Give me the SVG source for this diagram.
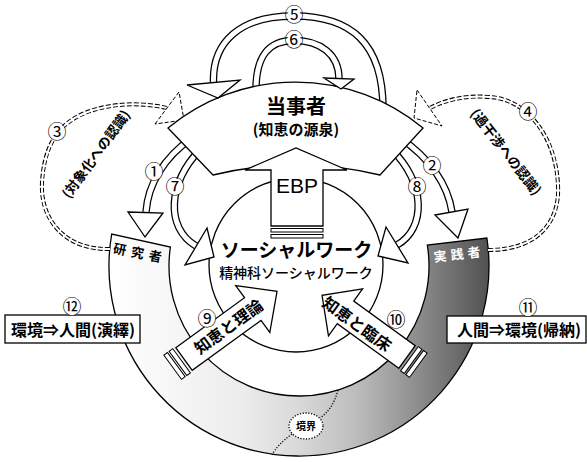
<svg xmlns="http://www.w3.org/2000/svg" width="587" height="462" viewBox="0 0 587 462">
<defs>
<linearGradient id="bandg" gradientUnits="userSpaceOnUse" x1="110" y1="0" x2="490" y2="0">
<stop offset="0" stop-color="#ffffff"/>
<stop offset="0.35" stop-color="#ececec"/>
<stop offset="0.5" stop-color="#d8d8d8"/>
<stop offset="0.65" stop-color="#bcbcbc"/>
<stop offset="0.82" stop-color="#8a8a8a"/>
<stop offset="1" stop-color="#505050"/>
</linearGradient>
<style>
.ol{fill:#fff;stroke:#000;stroke-width:1.3;stroke-linejoin:miter}
.thin{fill:#fff;stroke:#000;stroke-width:1}
.db{fill:none;stroke:#000;stroke-width:7.5}
.dw{fill:none;stroke:#fff;stroke-width:5}
.sb{fill:none;stroke:#000;stroke-width:4;stroke-dasharray:5 2}
.sw{fill:none;stroke:#fff;stroke-width:2}
.dah{fill:#fff;stroke:#000;stroke-width:1;stroke-dasharray:4 2}
.jp{font-family:"Noto Sans CJK JP","Noto Sans CJK SC",sans-serif}
.b{font-weight:bold}
.num{font-family:"Noto Sans CJK JP",sans-serif;font-size:19px;text-anchor:middle}
.bg{fill:#fff}
</style>
<path id="p1" d="M192,138 C163,158 148,185 146,212"/>
<path id="p7" d="M200,150 C168,182 165,228 196,246"/>
<path id="p2" d="M400,138 C430,158 448,185 452,212"/>
<path id="p8" d="M392,150 C425,182 427,228 397,245"/>
<path id="p5" d="M383,112 C384,42 350,16 294,16 C240,16 212,42 213.5,83"/>
<path id="p6" d="M256,94 C255,54 270,40.5 294,40.5 C320,40.5 339,54 339,79"/>
<path id="p3" d="M110,249 C65,250 40,220 42,182 C44,150 55,125 85,113 C110,103 140,102 167,108"/>
<path id="p4" d="M488,250 C540,250 560,220 558,185 C556,140 530,100 490,97 C465,95 445,100 430,108"/>
</defs>

<rect x="0" y="0" width="587" height="462" fill="#fff"/>

<g id="band">
<path d="M111.7,234 A190,190 0 1 0 486.9,238 L427.3,245 A130,130 0 1 1 170.4,247 Z" fill="url(#bandg)" stroke="#000" stroke-width="1.3"/>
<path d="M338,390 C334,405 328,412 320,418 M292,434 C281,442 275,449 272,455" fill="none" stroke="#000" stroke-width="1.3" stroke-dasharray="1.2 1.6"/>
</g>

<g id="boundary">
<ellipse cx="306" cy="426" rx="17" ry="13" fill="#fff" stroke="#000" stroke-width="1.3" stroke-dasharray="1.2 1.6"/>
<text x="306" y="430" class="jp b" font-size="10" text-anchor="middle">境界</text>
</g>

<g id="socialwork">
<circle cx="296" cy="265" r="87" fill="none" stroke="#000" stroke-width="1.3"/>
</g>

<g id="connectors">
<use href="#p3" class="sb"/><use href="#p3" class="sw"/>
<use href="#p4" class="sb"/><use href="#p4" class="sw"/>
<polygon class="dah" points="155,124 179,92 184,120"/>
<polygon class="dah" points="417,90 442,126 414,118"/>
<use href="#p1" class="db"/><use href="#p1" class="dw"/>
<use href="#p7" class="db"/><use href="#p7" class="dw"/>
<use href="#p2" class="db"/><use href="#p2" class="dw"/>
<use href="#p8" class="db"/><use href="#p8" class="dw"/>
<polygon class="ol" points="128,212 163,213 145,237"/>
<polygon class="ol" points="207,228 185,265 214,257"/>
<polygon class="ol" points="435,215 468,209 458,238"/>
<polygon class="ol" points="386,227 408,263 378,256"/>
<use href="#p5" class="db"/><use href="#p5" class="dw"/>
<use href="#p6" class="db"/><use href="#p6" class="dw"/>
</g>

<g id="touji">
<path class="ol" d="M168,128 A200,200 0 0 1 423,128 L380,175 A354,354 0 0 0 213,175 Z"/>
<text x="296" y="114" class="jp b" font-size="20" text-anchor="middle">当事者</text>
<text x="296" y="135" class="jp b" font-size="15" text-anchor="middle">(知恵の源泉)</text>
</g>

<g id="loopheads">
<polygon class="ol" points="187,85 240,80 218,98"/>
<polygon class="ol" points="324,78 354,79 341,89"/>
</g>

<g id="ebp">
<polygon class="ol" points="271,226 271,170 245,170 296,148 347,170 323,170 323,226"/>
<rect class="thin" x="271" y="228.5" width="52" height="3.5"/>
<rect class="thin" x="271" y="234.5" width="52" height="3.5"/>
<text x="297" y="193" font-family="Liberation Sans, Arial, sans-serif" font-size="21" text-anchor="middle">EBP</text>
</g>

<g id="swtext">
<text x="296.5" y="257" class="jp b" font-size="19" text-anchor="middle">ソーシャルワーク</text>
<text x="296" y="278" class="jp" font-size="14" font-weight="500" text-anchor="middle">精神科ソーシャルワーク</text>
</g>

<g id="arrow9" transform="translate(184,359) rotate(-36)">
<rect class="thin" x="-14" y="-15" width="4.5" height="30"/>
<rect class="thin" x="-7.5" y="-15" width="4.5" height="30"/>
<polygon class="ol" points="0,-14 85,-14 85,-29 115,0 85,29 85,14 0,14"/>
<text x="55" y="6" class="jp b" font-size="16" text-anchor="middle">知恵と理論</text>
</g>

<g id="arrow10">
<g transform="translate(407,357) rotate(-144)">
<rect class="thin" x="-14" y="-15" width="4.5" height="30"/>
<rect class="thin" x="-7.5" y="-15" width="4.5" height="30"/>
<polygon class="ol" points="0,-14 76,-14 76,-29 105,0 76,29 76,14 0,14"/>
</g>
<text transform="translate(357,324) rotate(36)" x="0" y="6" class="jp b" font-size="16" text-anchor="middle">知恵と臨床</text>
</g>

<g id="researcher">
<text transform="translate(140,253) rotate(11)" x="0" y="5" class="jp b" font-size="13" letter-spacing="5" text-anchor="middle">研究者</text>
</g>
<g id="practitioner">
<text transform="translate(459,254) rotate(-7)" x="0" y="5" class="jp b" font-size="13" letter-spacing="4" fill="#fff" text-anchor="middle">実践者</text>
</g>

<g id="loopTexts">
<text transform="translate(96,154) rotate(-54)" x="0" y="5" class="jp b" font-size="13.5" text-anchor="middle">(対象化への認識)</text>
<text transform="translate(506,152) rotate(52)" x="0" y="5" class="jp b" font-size="13.5" text-anchor="middle">(過干渉への認識)</text>
</g>

<g id="box12">
<rect class="ol" x="5" y="315" width="135" height="28"/>
<text x="73" y="336" class="jp b" font-size="16" text-anchor="middle">環境⇒人間(演繹)</text>
</g>
<g id="box11">
<rect class="ol" x="447" y="316" width="139" height="27"/>
<text x="519" y="336" class="jp b" font-size="16" text-anchor="middle">人間⇒環境(帰納)</text>
</g>

<g id="labels">
<circle class="bg" cx="154" cy="172" r="8.5"/><text class="num" x="154" y="178.5">①</text>
<circle class="bg" cx="432" cy="166" r="8.5"/><text class="num" x="432" y="172.5">②</text>
<circle class="bg" cx="57" cy="132" r="8.5"/><text class="num" x="57" y="138.5">③</text>
<circle class="bg" cx="528" cy="112" r="8.5"/><text class="num" x="528" y="118.5">④</text>
<circle class="bg" cx="294" cy="16" r="7"/><text class="num" x="294" y="22" font-size="15">⑤</text>
<circle class="bg" cx="294" cy="40.5" r="7"/><text class="num" x="294" y="46.5" font-size="15">⑥</text>
<circle class="bg" cx="175" cy="187" r="8.5"/><text class="num" x="175" y="193.5">⑦</text>
<circle class="bg" cx="417" cy="187" r="8.5"/><text class="num" x="417" y="193.5">⑧</text>
<circle class="bg" cx="207" cy="319" r="8.5"/><text class="num" x="207" y="325.5">⑨</text>
<circle class="bg" cx="396" cy="320" r="8.5"/><text class="num" x="396" y="326.5">⑩</text>
<circle class="bg" cx="528" cy="308" r="8.5"/><text class="num" x="528" y="314.5">⑪</text>
<circle class="bg" cx="72" cy="307" r="8.5"/><text class="num" x="72" y="313.5">⑫</text>
</g>
</svg>
